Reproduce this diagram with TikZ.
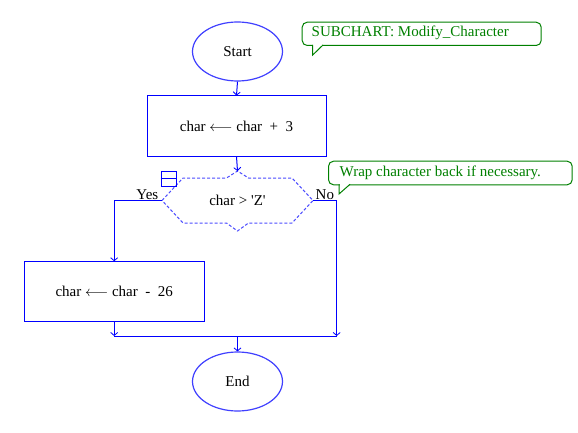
\documentclass[tikz,border=0pt]{standalone}
\usepackage{fontspec}
\setmainfont{Liberation Serif}
\usetikzlibrary{arrows.meta,shapes.geometric}
\definecolor{fblue}{RGB}{0,0,255}
\definecolor{fgreen}{RGB}{0,128,0}
\begin{document}
\begin{tikzpicture}[x=1pt,y=-1pt,
  line/.style={fblue, line width=1pt},
  arr/.style={line, -{Straight Barb[length=3pt,width=7pt,line width=0.8pt]}},
  txt/.style={font=\fontsize{15}{18}\selectfont, inner sep=0pt},
  term/.style={txt, ellipse, draw=fblue!75, line width=1.2pt, minimum width=90pt, minimum height=59pt},
  proc/.style={txt, rectangle, draw=fblue, line width=1pt},
  dec/.style={draw=fblue!70, line width=1pt, dash pattern=on 3pt off 2pt},
  notebox/.style={draw=fgreen, line width=1pt, rounded corners=5pt, inner sep=0pt, anchor=north west},
  notetext/.style={txt, text=fgreen, anchor=base west}
]
\useasboundingbox[fill=white] (0,0) rectangle (578,433);

% terminals and processes
\node[term] (start) at (237.5,51.5) {Start};
\node[proc, minimum width=179pt, minimum height=60pt] (b1) at (236.5,126) {char $\longleftarrow$ char \ + \ 3};
\node[proc, minimum width=180pt, minimum height=59.5pt] (b2) at (114.2,291.5) {char $\longleftarrow$ char \ - \ 26};
\node[term] (end) at (237.5,381.5) {End};

% decision
\node[txt] (dec) at (237.5,200.5) {char > \textquotesingle Z\textquotesingle};
\coordinate (dtop) at (237.5,171);
\coordinate (dleft) at (162,200.5);
\coordinate (dright) at (313,200.5);
\draw[dec] (dleft) -- (183,178) -- (226.5,178) -- (dtop) -- (248.5,178) -- (292,178)
  -- (dright) -- (292,223) -- (248.5,223) -- (237.5,231) -- (226.5,223) -- (183,223) -- cycle;

% collapse icon
\node[draw=fblue, line width=1pt, minimum width=15.5pt, minimum height=15.5pt, inner sep=0pt] (icon) at (168.8,178.8) {};
\draw[line] (icon.west) -- (icon.east);

% labels
\node[txt, anchor=base east] (yes) at (158.5,199) {Yes};
\node[txt, anchor=base west] (no) at (315.5,199) {No};

% merge points
\coordinate (mL) at (114.2,336);
\coordinate (mC) at (237.5,336);
\coordinate (mR) at (336.7,336);

% connectors
\draw[arr] (start.south) -- (b1.north);
\draw[arr] (b1.south) -- (dtop);
\draw[arr] (dleft) -| (b2.north);
\draw[arr] (dright) -| (mR);
\draw[arr] (b2.south) -- (mL);
\draw[line] (mL) -- (mR);
\draw[arr] (mC) -- (end.north);

% callout 1
\node[notebox, minimum width=239pt, minimum height=23.3pt] (n1) at (301.7,21.7) {};
\fill[white] (313.4,43.5) rectangle (322.3,46.5);
\draw[fgreen, line width=1pt] (312.7,45) -- (312.7,55) -- (323,45);
\node[notetext] (n1t) at (311.5,37) {SUBCHART: Modify\_Character};

% callout 2
\node[notebox, minimum width=243.7pt, minimum height=23.6pt] (n2) at (328,160.7) {};
\fill[white] (339.7,183) rectangle (349.3,186);
\draw[fgreen, line width=1pt] (339,184.3) -- (339,194) -- (350,184.3);
\node[notetext] (n2t) at (339.5,176.3) {Wrap character back if necessary.};
\end{tikzpicture}
\end{document}
